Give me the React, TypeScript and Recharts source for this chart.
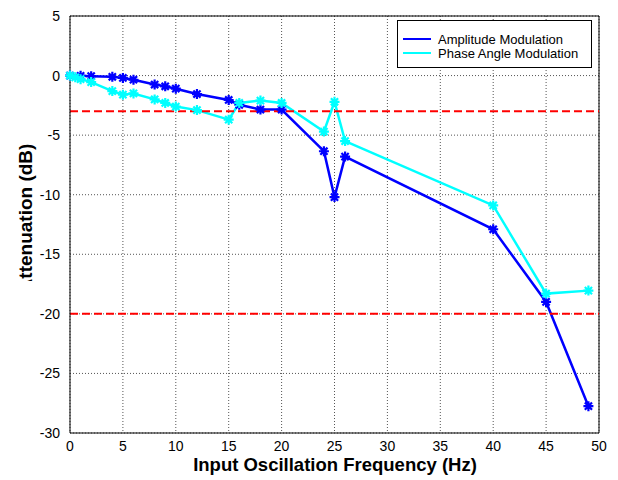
import React from "react";
import {
  LineChart,
  Line,
  XAxis,
  YAxis,
  CartesianGrid,
  ReferenceLine,
} from "recharts";

// frequencies (Hz) and attenuation (dB)
const ampFreq = [0, 1, 2, 4, 5, 6, 8, 9, 10, 12, 15, 16, 18, 20, 24, 25, 26, 40, 45, 49];
const ampDb = [0, -0.02, -0.05, -0.1, -0.2, -0.35, -0.75, -0.9, -1.1, -1.55, -2.05, -2.45, -2.85, -2.85, -6.35, -10.2, -6.8, -12.9, -19.0, -27.75];

const phaseFreq = [0, 0.5, 1, 2, 4, 5, 6, 8, 9, 10, 12, 15, 16, 18, 20, 24, 25, 26, 40, 45, 49];
const phaseDb = [0, -0.15, -0.3, -0.55, -1.3, -1.6, -1.5, -2.0, -2.3, -2.6, -2.9, -3.7, -2.3, -2.1, -2.3, -4.7, -2.2, -5.5, -10.9, -18.3, -18.05];

const xTicks = [0, 5, 10, 15, 20, 25, 30, 35, 40, 45, 50];
const yTicks = [5, 0, -5, -10, -15, -20, -25, -30];
const cutoffs = [-3, -20];

const seriesNames = ["Amplitude Modulation", "Phase Angle Modulation"];
const seriesColors = ["#0000ff", "#00ffff"];

const ampData = ampFreq.map((f, i) => ({ f, v: ampDb[i] }));
const phaseData = phaseFreq.map((f, i) => ({ f, v: phaseDb[i] }));

const FONT = "'Liberation Sans', Arial, sans-serif";

function Star(props: any) {
  const { cx, cy, stroke } = props;
  if (cx == null || cy == null) return null;
  const r = 5;
  const d = 3.6;
  return (
    <path
      d={`M${cx},${cy - r}L${cx},${cy + r}M${cx - r},${cy}L${cx + r},${cy}M${cx - d},${cy - d}L${cx + d},${cy + d}M${cx - d},${cy + d}L${cx + d},${cy - d}`}
      stroke={stroke}
      strokeWidth={2.2}
      fill="none"
    />
  );
}

function LegendBox() {
  return (
    <div
      style={{
        position: "absolute",
        left: 397,
        top: 20,
        width: 195,
        height: 48,
        border: "1px solid #000",
        background: "#fff",
        fontFamily: FONT,
        fontSize: 13,
        color: "#000",
        boxSizing: "border-box",
        paddingTop: 11,
      }}
    >
      {seriesNames.map((n, i) => (
        <div key={n} style={{ display: "flex", alignItems: "center", height: 14 }}>
          <div style={{ width: 28, height: 2, background: seriesColors[i], marginLeft: 5, marginRight: 7 }} />
          <span>{n}</span>
        </div>
      ))}
    </div>
  );
}

export default function App() {
  return (
    <div style={{ position: "absolute", left: 0, top: 0, width: 618, height: 480, background: "#fff" }}>
      <LineChart
        width={618}
        height={480}
        margin={{ top: 16, right: 19, bottom: 17, left: 10 }}
      >
        <CartesianGrid stroke="#555" strokeDasharray="1 2" />
        <XAxis
          dataKey="f"
          type="number"
          domain={[0, 50]}
          ticks={xTicks}
          height={30}
          stroke="#000"
          tickLine={false}
          tickMargin={2}
          tick={{ fontSize: 14, fill: "#000", fontFamily: FONT }}
          allowDuplicatedCategory={false}
          label={{
            content: () => (
              <text
                x={335}
                y={471}
                textAnchor="middle"
                fontFamily={FONT}
                fontSize={18.5}
                fontWeight="bold"
                fill="#000"
              >
                Input Oscillation Frequency (Hz)
              </text>
            ),
          }}
        />
        <YAxis
          type="number"
          domain={[-30, 5]}
          ticks={yTicks}
          width={60}
          stroke="#000"
          tickLine={false}
          tickMargin={4}
          tick={{ fontSize: 14, fill: "#000", fontFamily: FONT }}
          label={{
            content: () => (
              <g>
                <defs>
                  <clipPath id="ylabclip">
                    <rect x={0} y={0} width={60} height={281} />
                  </clipPath>
                </defs>
                <g clipPath="url(#ylabclip)">
                  <text
                    x={32}
                    y={218}
                    transform="rotate(-90, 32, 218)"
                    textAnchor="middle"
                    fontFamily={FONT}
                    fontSize={19}
                    fontWeight="bold"
                    fill="#000"
                  >
                    Attenuation (dB)
                  </text>
                </g>
              </g>
            ),
          }}
        />
        <ReferenceLine y={5} stroke="#000" strokeWidth={1} />
        <ReferenceLine x={50} stroke="#000" strokeWidth={1} />
        <Line
          data={ampData}
          dataKey="v"
          name={seriesNames[0]}
          type="linear"
          stroke={seriesColors[0]}
          strokeWidth={2.5}
          dot={<Star />}
          activeDot={false}
          isAnimationActive={false}
        />
        <Line
          data={phaseData}
          dataKey="v"
          name={seriesNames[1]}
          type="linear"
          stroke={seriesColors[1]}
          strokeWidth={2.5}
          dot={<Star />}
          activeDot={false}
          isAnimationActive={false}
        />
        {cutoffs.map((c) => (
          <ReferenceLine key={c} y={c} stroke="#ff0000" strokeWidth={2} strokeDasharray="8 4" />
        ))}
      </LineChart>
      <LegendBox />
    </div>
  );
}
